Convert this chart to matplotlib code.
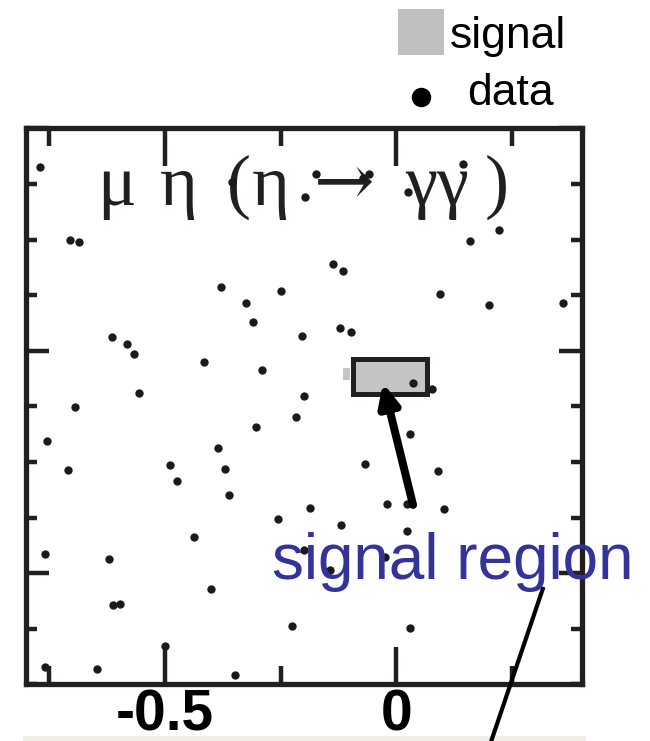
"""Event display: mu eta (eta -> gamma gamma) candidates with signal window."""
import matplotlib

matplotlib.use("Agg")

import matplotlib.pyplot as plt
from matplotlib.patches import Rectangle
from matplotlib.ticker import MultipleLocator

INK = "#231f20"
SIGNAL_GREY = "#c3c4c6"
LABEL_BLUE = "#333399"

# candidate events (x, y)
DATA_X = [
    -0.769, -0.355, -0.198, -0.174, -0.072, -0.059, 0.143, 0.025, -0.705, -0.685,
    -0.379, -0.249, -0.325, -0.310, -0.204, -0.614, -0.581, -0.566, -0.415, -0.290,
    -0.556, -0.199, -0.694, -0.217, 0.221, 0.159, -0.137, -0.115, 0.094, 0.200,
    0.360, -0.122, -0.098, 0.036, 0.077, -0.754, -0.709, -0.303, -0.385, -0.489,
    -0.370, -0.474, -0.361, -0.186, -0.256, -0.437, -0.759, -0.620, -0.199, -0.400,
    -0.611, -0.597, -0.225, -0.500, -0.759, -0.646, -0.348, 0.029, -0.068, 0.090,
    -0.020, 0.023, 0.103, -0.120, 0.023, -0.025, -0.143, 0.029,
]
DATA_Y = [
    1.826, 1.759, 1.691, 1.795, 1.778, 1.795, 1.840, 1.714, 1.498, 1.490,
    1.289, 1.271, 1.215, 1.130, 1.067, 1.063, 1.031, 0.986, 0.950, 0.914,
    0.811, 0.797, 0.748, 0.703, 1.544, 1.494, 1.391, 1.360, 1.256, 1.206,
    1.215, 1.103, 1.085, 0.856, 0.829, 0.595, 0.464, 0.658, 0.563, 0.487,
    0.469, 0.415, 0.352, 0.293, 0.244, 0.163, 0.086, 0.064, 0.104, -0.071,
    -0.143, -0.139, -0.238, -0.328, -0.422, -0.431, -0.458, 0.626, 0.491, 0.460,
    0.311, 0.311, 0.289, 0.217, 0.190, 0.073, 0.014, -0.247,
]

# signal window and the small spill of the signal shape to its left
SIGNAL_X = (-0.094, 0.066)
SIGNAL_Y = (0.808, 0.961)
SPILL_X = (-0.115, -0.100)
SPILL_Y = (0.869, 0.923)

XLIM = (-0.8, 0.4)
YLIM = (-0.5, 2.0)
XTICKS = [-0.5, 0.0]
XTICK_LABELS = ["-0.5", "0"]

# channel label, set piece by piece so the spacing follows the original
TITLE_PARTS = ["\u03bc", "\u03b7", "(", "\u03b7", "\u2192", "\u03b3\u03b3", ")"]
TITLE_LEFT = [-0.646, -0.510, -0.366, -0.312, -0.178, 0.019, 0.191]
TITLE_BASE = 1.656

LABEL_POS = (-0.269, -0.026)
ARROW_TAIL = (0.036, 0.307)
ARROW_TIP = (-0.029, 0.856)
POINTER_LINE_X = [0.316, 0.191]
POINTER_LINE_Y = [-0.071, -0.840]


def main():
    fig = plt.figure(figsize=(6.5, 7.41), dpi=100)
    ax = fig.add_axes([0.0395, 0.0765, 0.8554, 0.7501])

    # signal window
    ax.add_patch(Rectangle((SPILL_X[0], SPILL_Y[0]), SPILL_X[1] - SPILL_X[0],
                           SPILL_Y[1] - SPILL_Y[0], facecolor=SIGNAL_GREY,
                           edgecolor="none", zorder=1))
    ax.add_patch(Rectangle((SIGNAL_X[0], SIGNAL_Y[0]), SIGNAL_X[1] - SIGNAL_X[0],
                           SIGNAL_Y[1] - SIGNAL_Y[0], facecolor=SIGNAL_GREY,
                           edgecolor=INK, linewidth=3.6, zorder=2))

    ax.plot(DATA_X, DATA_Y, "o", color="#1a1a1a", markersize=6.0,
            markeredgewidth=0, zorder=4)

    ax.set_xlim(*XLIM)
    ax.set_ylim(*YLIM)
    ax.set_xticks(XTICKS)
    ax.set_xticklabels(XTICK_LABELS)
    ax.xaxis.set_minor_locator(MultipleLocator(0.25))
    ax.yaxis.set_major_locator(MultipleLocator(1.0))
    ax.yaxis.set_minor_locator(MultipleLocator(0.25))

    ax.tick_params(axis="x", which="major", direction="in", length=27, width=3.2,
                   top=True, bottom=True, color=INK, labelsize=41, pad=3,
                   labelcolor="black")
    ax.tick_params(axis="x", which="minor", direction="in", length=12.8,
                   width=3.2, top=True, bottom=True, color=INK)
    ax.tick_params(axis="y", which="major", direction="in", length=16.5,
                   width=3.2, left=True, right=True, labelleft=False, color=INK)
    ax.tick_params(axis="y", which="minor", direction="in", length=8.2,
                   width=3.2, left=True, right=True, color=INK)
    for lab in ax.get_xticklabels():
        lab.set_fontfamily("Liberation Sans")
        lab.set_fontweight("bold")
    for spine in ax.spines.values():
        spine.set_linewidth(3.8)
        spine.set_color(INK)

    for part, left in zip(TITLE_PARTS, TITLE_LEFT):
        fam = ["DejaVu Serif"] if part == "\u2192" else ["Liberation Serif", "DejaVu Serif"]
        ax.text(left, TITLE_BASE, part, family=fam, fontsize=52, color=INK,
                ha="left", va="baseline", zorder=3)

    ax.annotate("", xy=ARROW_TIP, xytext=ARROW_TAIL,
                arrowprops=dict(arrowstyle="-|>,head_length=0.65,head_width=0.3",
                                mutation_scale=20, lw=5.8, color="black",
                                shrinkA=0, shrinkB=0),
                zorder=5)
    ax.plot(POINTER_LINE_X, POINTER_LINE_Y, color="black", linewidth=3,
            clip_on=False, zorder=5)
    ax.text(*LABEL_POS, "signal region", family="Liberation Sans", fontsize=46,
            color=LABEL_BLUE, ha="left", va="baseline", zorder=6)

    # legend drawn by hand above the frame
    fig.add_artist(Rectangle((0.612, 0.9258), 0.0708, 0.0621,
                             transform=fig.transFigure, facecolor="#c0c0c0",
                             edgecolor="none"))
    fig.text(0.692, 0.9352, "signal", family="Liberation Sans", fontsize=32,
             va="baseline")
    fig.add_artist(plt.Line2D([0.6477], [0.8691], marker="o", markersize=13,
                              color="black", transform=fig.transFigure))
    fig.text(0.7185, 0.8583, "data", family="Liberation Sans", fontsize=32,
             va="baseline")

    # pale strip along the bottom edge of the scan
    fig.add_artist(Rectangle((0.0354, 0.0), 0.866, 0.0068,
                             transform=fig.transFigure, facecolor="#f1eee8",
                             edgecolor="none", zorder=-1))

    fig.savefig("out.png", dpi=100)
    plt.close(fig)


if __name__ == "__main__":
    main()
